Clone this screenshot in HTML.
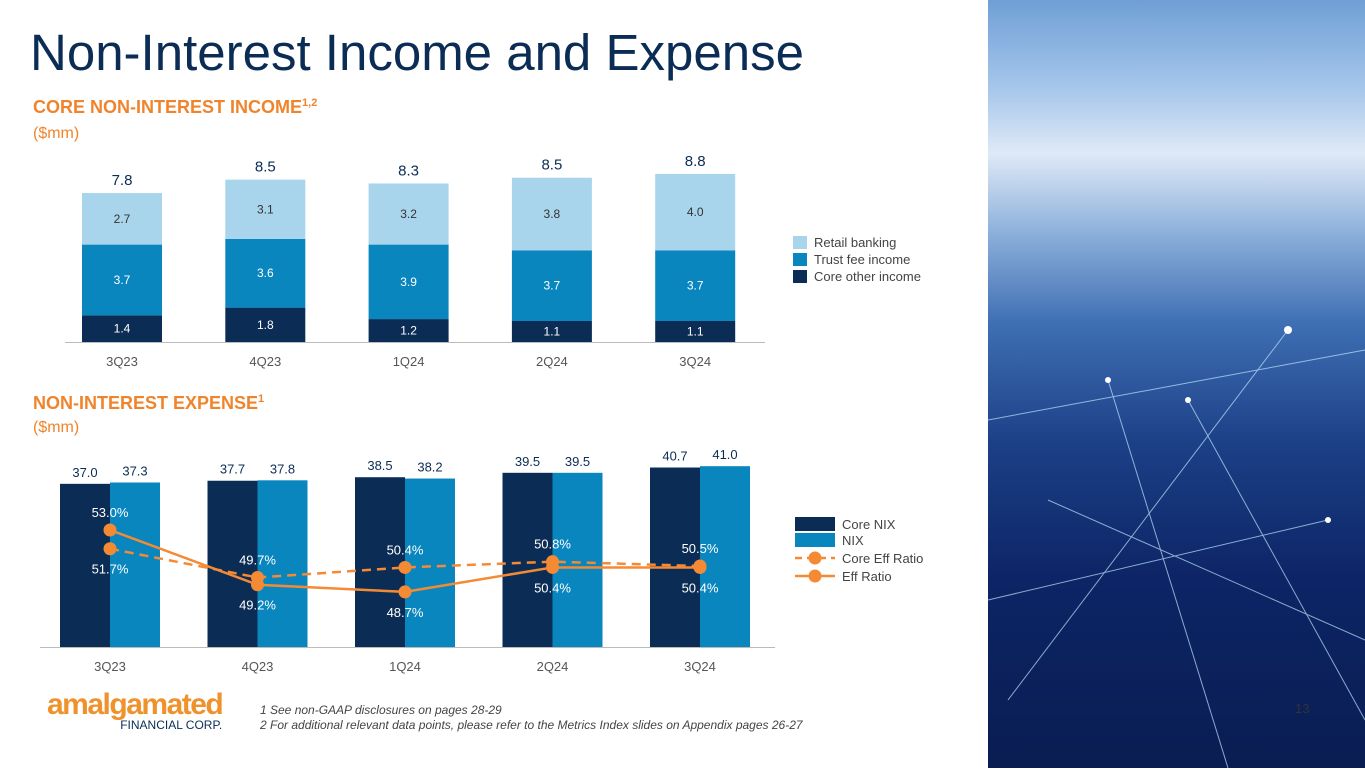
<!DOCTYPE html>
<html><head><meta charset="utf-8"><style>
body{margin:0;width:1365px;height:768px;overflow:hidden;background:#fff;font-family:"Liberation Sans",Arial,sans-serif;position:relative}
.abs{position:absolute}
</style></head><body>
<div class="abs" style="left:30px;top:23px;font-size:51px;color:#0b2d55;white-space:nowrap">Non-Interest Income and Expense</div>
<div class="abs" style="left:33px;top:97px;font-size:18px;font-weight:bold;color:#f0842c">CORE NON-INTEREST INCOME<sup style="font-size:11px">1,2</sup></div>
<div class="abs" style="left:33px;top:125px;font-size:16px;color:#f0842c">($mm)</div>
<div class="abs" style="left:33px;top:393px;font-size:18px;font-weight:bold;color:#f0842c">NON-INTEREST EXPENSE<sup style="font-size:11px">1</sup></div>
<div class="abs" style="left:33px;top:419px;font-size:16px;color:#f0842c">($mm)</div>

<svg class="abs" style="left:0;top:0" width="988" height="768">
<g id="topChart"></g><g id="botChart"></g>
</svg>

<div class="abs" style="left:988px;top:0;width:377px;height:768px;background:linear-gradient(180deg,#6f9fd6 0%,#a9c8ec 12%,#dfe9f6 20%,#8fb2dc 30%,#3f6fb4 42%,#1c3f86 58%,#0d2566 75%,#0a1d52 100%)">
<svg width="377" height="768"><g stroke="#bfe6ff" stroke-width="1" opacity="0.7">
<line x1="0" y1="420" x2="377" y2="350"/><line x1="20" y1="700" x2="300" y2="330"/><line x1="60" y1="500" x2="377" y2="640"/><line x1="120" y1="380" x2="240" y2="768"/><line x1="0" y1="600" x2="340" y2="520"/><line x1="200" y1="400" x2="377" y2="720"/></g>
<g fill="#fff"><circle cx="300" cy="330" r="4"/><circle cx="120" cy="380" r="3"/><circle cx="340" cy="520" r="3"/><circle cx="200" cy="400" r="3"/></g></svg>
</div>
<div class="abs" style="left:1295px;top:701px;font-size:13px;color:#333">13</div>

<div class="abs" style="left:47px;top:690px;">
<div style="font-size:30px;font-weight:bold;color:#f0922c;letter-spacing:-1.5px;line-height:30px">amalgamated</div>
<div style="font-size:12px;color:#0b2d55;text-align:right;line-height:12px;margin-top:-1px">FINANCIAL CORP.</div></div>
<div class="abs" style="left:260px;top:703px;font-size:12px;font-style:italic;color:#444;line-height:15px">1 See non-GAAP disclosures on pages 28-29<br>2 For additional relevant data points, please refer to the Metrics Index slides on Appendix pages 26-27</div>

<script>
const quarters=["3Q23","4Q23","1Q24","2Q24","3Q24"];
const coreOther=[1.4,1.8,1.2,1.1,1.1];
const trustFee=[3.7,3.6,3.9,3.7,3.7];
const retail=[2.7,3.1,3.2,3.8,4.0];
const totals=["7.8","8.5","8.3","8.5","8.8"];
const coreNix=[37.0,37.7,38.5,39.5,40.7];
const nix=[37.3,37.8,38.2,39.5,41.0];
const coreEff=[51.7,49.7,50.4,50.8,50.5];
const eff=[53.0,49.2,48.7,50.4,50.4];
const NS="http://www.w3.org/2000/svg";
function mk(p,t,a,txt){const e=document.createElementNS(NS,t);for(const k in a)e.setAttribute(k,a[k]);if(txt!==undefined)e.textContent=txt;p.appendChild(e);return e;}
const C1="#0b2d55",C2="#0a86bf",C3="#a9d5ec",OR="#f58a35";
const topG=document.getElementById('topChart');
const tx=i=>122+i*143.3, ty=v=>342-v*19.1;
mk(topG,'line',{x1:65,x2:765,y1:342.5,y2:342.5,stroke:'#bbb'});
quarters.forEach((q,i)=>{
 const segs=[[coreOther[i],C1,'#fff'],[trustFee[i],C2,'#fff'],[retail[i],C3,'#333']];let base=0;
 segs.forEach((s,j)=>{const y0=ty(base),y1=ty(base+s[0]);
  const r=mk(topG,'rect',{x:tx(i)-40,y:y1,width:80,height:y0-y1,fill:s[1]});
  
  
  const t=mk(topG,'text',{x:tx(i),y:(y0+y1)/2+4,'text-anchor':'middle','font-size':12,fill:s[2]},s[0].toFixed(1));
  
  
  base+=s[0];});
 const tl=mk(topG,'text',{x:tx(i),y:ty(base)-8,'text-anchor':'middle','font-size':15,fill:'#0b2d55'},totals[i]);
 
 
 const ql=mk(topG,'text',{x:tx(i),y:366,'text-anchor':'middle','font-size':13,fill:'#555'},q);
 
 
});
[["Retail banking",C3],["Trust fee income",C2],["Core other income",C1]].forEach((l,j)=>{
 const r=mk(topG,'rect',{x:793,y:236+j*17,width:14,height:13,fill:l[1]});
 
 
 const t=mk(topG,'text',{x:814,y:247+j*17,'font-size':13,fill:'#444'},l[0]);
 
 
});
const botG=document.getElementById('botChart');
const bx=i=>110+i*147.5, by=v=>647-v*4.41, ry=v=>530+(53-v)*14.4;
mk(botG,'line',{x1:40,x2:775,y1:647.5,y2:647.5,stroke:'#bbb'});
quarters.forEach((q,i)=>{
 [[coreNix[i],C1,-50],[nix[i],C2,0]].forEach(s=>{
  const r=mk(botG,'rect',{x:bx(i)+s[2],y:by(s[0]),width:50,height:647-by(s[0]),fill:s[1]});
  
  
  const t=mk(botG,'text',{x:bx(i)+s[2]+25,y:by(s[0])-7,'text-anchor':'middle','font-size':13,fill:'#0b2d55'},s[0].toFixed(1));
  
  
 });
 const ql=mk(botG,'text',{x:bx(i),y:671,'text-anchor':'middle','font-size':13,fill:'#555'},q);
 
 
});
const pc=mk(botG,'polyline',{points:coreEff.map((v,i)=>bx(i)+','+ry(v)).join(' '),fill:'none',stroke:OR,'stroke-width':2.5,'stroke-dasharray':'9,6'});


const pe=mk(botG,'polyline',{points:eff.map((v,i)=>bx(i)+','+ry(v)).join(' '),fill:'none',stroke:OR,'stroke-width':2.5});


quarters.forEach((q,i)=>{
 [[coreEff[i],i===0?1:-1],[eff[i],i===0?-1:1]].forEach(s=>{
  const c=mk(botG,'circle',{cx:bx(i),cy:ry(s[0]),r:6.5,fill:OR});
  
  
  const t=mk(botG,'text',{x:bx(i),y:ry(s[0])+(s[1]>0?25:-13),'text-anchor':'middle','font-size':13,fill:'#fff'},s[0].toFixed(1)+'%');
  
  
 });
});
[["Core NIX",C1],["NIX",C2]].forEach((l,j)=>{
 const r=mk(botG,'rect',{x:795,y:517+j*16,width:40,height:14,fill:l[1]});
 
 
 const t=mk(botG,'text',{x:842,y:529+j*16,'font-size':13,fill:'#444'},l[0]);
 
 
});
[["Core Eff Ratio",'7,5'],["Eff Ratio",'none']].forEach((l,j)=>{
 const y=558+j*18;
 const ln=mk(botG,'line',{x1:795,x2:835,y1:y,y2:y,stroke:OR,'stroke-width':2.5,'stroke-dasharray':l[1]});
 
 
 const c=mk(botG,'circle',{cx:815,cy:y,r:6.5,fill:OR});
 
 
 const t=mk(botG,'text',{x:842,y:y+5,'font-size':13,fill:'#444'},l[0]);
 
 
});
</script>
</body></html>
